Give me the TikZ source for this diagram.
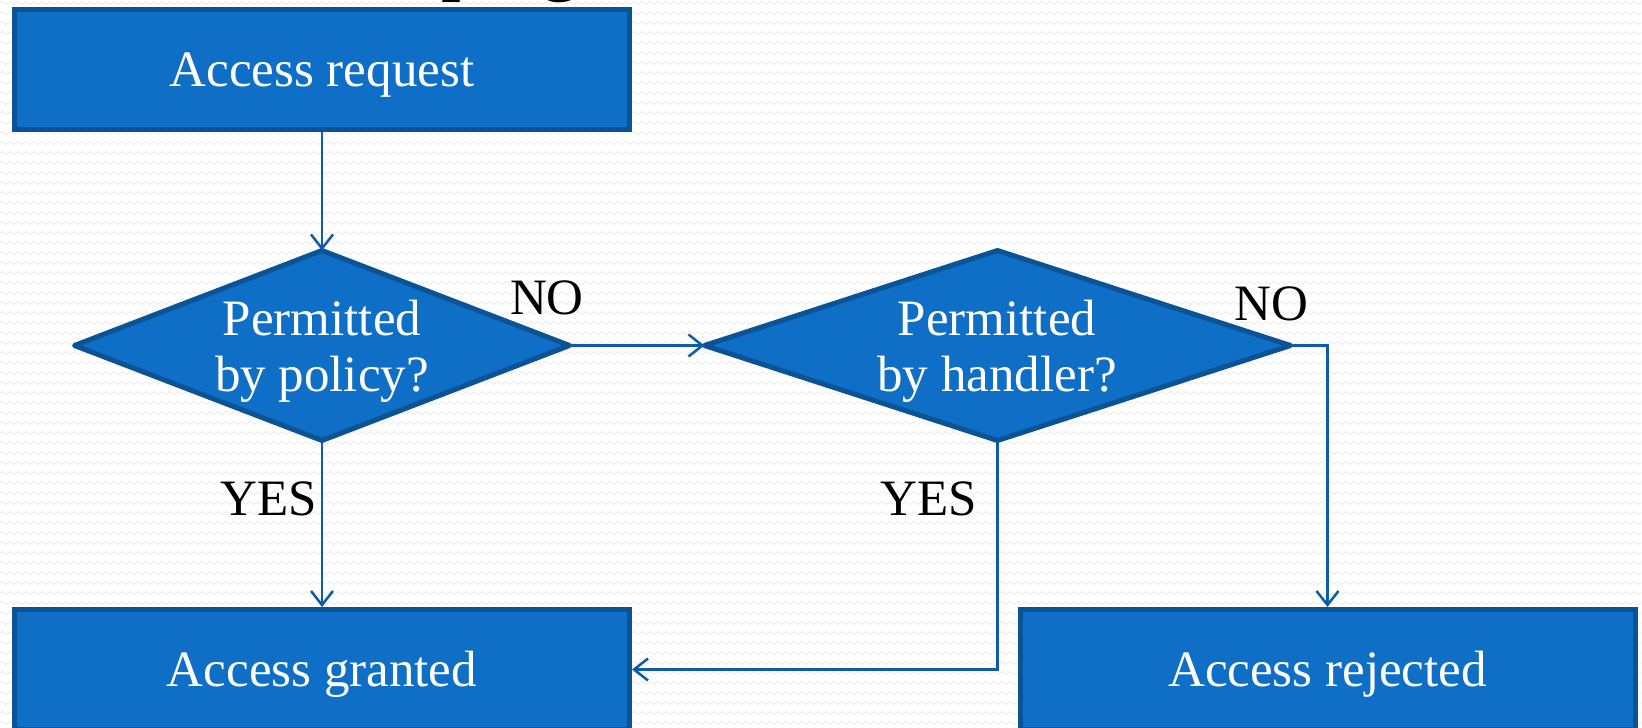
\documentclass[tikz,border=0pt]{standalone}
\usepackage{fontspec}
\setmainfont{Liberation Serif}
\usetikzlibrary{shapes.geometric,arrows.meta,decorations.pathmorphing}
\definecolor{boxfill}{HTML}{0F6FC6}
\definecolor{boxedge}{HTML}{0B5394}
\definecolor{wire}{HTML}{0E5CA8}
\definecolor{texture}{HTML}{EBEBEB}
\begin{document}
\begin{tikzpicture}[x=1pt,y=-1pt,
  bigfont/.style={font=\fontsize{51}{56}\selectfont},
  box/.style={rectangle, draw=boxedge, fill=boxfill, line width=5pt,
    minimum width=615pt, minimum height=120pt, inner sep=0pt,
    text=white, text height=34pt, text depth=0pt, bigfont},
  decision/.style={diamond, draw=boxedge, fill=boxfill, line width=5pt,
    line join=round, minimum height=190pt, inner sep=0pt, outer sep=0pt},
  dtext/.style={text=white, align=center, inner sep=0pt, anchor=base, bigfont},
  answer/.style={text=black, inner sep=0pt, anchor=base, bigfont},
  flow/.style={draw=wire, line width=2.5pt,
    -{Straight Barb[length=14pt,width=22pt]}},
  titlefont/.style={inner sep=0pt, anchor=base west, font=\fontsize{80}{80}\selectfont},
]
\useasboundingbox (0,0) rectangle (1642,728);
\clip (0,0) rectangle (1642,728);

% slide background: white with faint zigzag rows
\fill[white] (0,0) rectangle (1642,728);
\foreach \r in {0,...,73}
  \draw[texture, line width=0.8pt, decorate,
        decoration={zigzag, segment length=8pt, amplitude=1.5pt}]
    (0,\r*10+3) -- (1642,\r*10+3);

% lower edge of the slide title
\node[titlefont] (titlep) at (441,-14) {p};
\node[titlefont] (titleg) at (540,-14) {g};

% boxes
\node[box] (request)  at (322,69.5)     {Access request};
\node[box] (granted)  at (322,669.5)    {Access granted};
\node[box] (rejected) at (1327.5,669.5) {Access rejected};

% decisions
\node[decision, minimum width=495pt] (policy)  at (322,345.5)   {};
\node[decision, minimum width=586pt] (handler) at (997.5,345.5) {};
\node[dtext] (policytext)  at (322,391) {Permitted\\by policy?};
\node[dtext] (handlertext) at (997,391) {Permitted\\by handler?};

% branch labels
\node[answer] (no1)  at (547,314)  {NO};
\node[answer] (no2)  at (1271,320) {NO};
\node[answer] (yes1) at (269,515)  {YES};
\node[answer] (yes2) at (929,515)  {YES};

% connectors
\draw[flow] (request.south) -- (policy.north);
\draw[flow] (policy.east) -- (handler.west);
\draw[flow] (policy.south) -- (granted.north);
\draw[flow] (handler.south) |- (granted.east);
\draw[flow] (handler.east) -| (rejected.north);
\end{tikzpicture}
\end{document}
